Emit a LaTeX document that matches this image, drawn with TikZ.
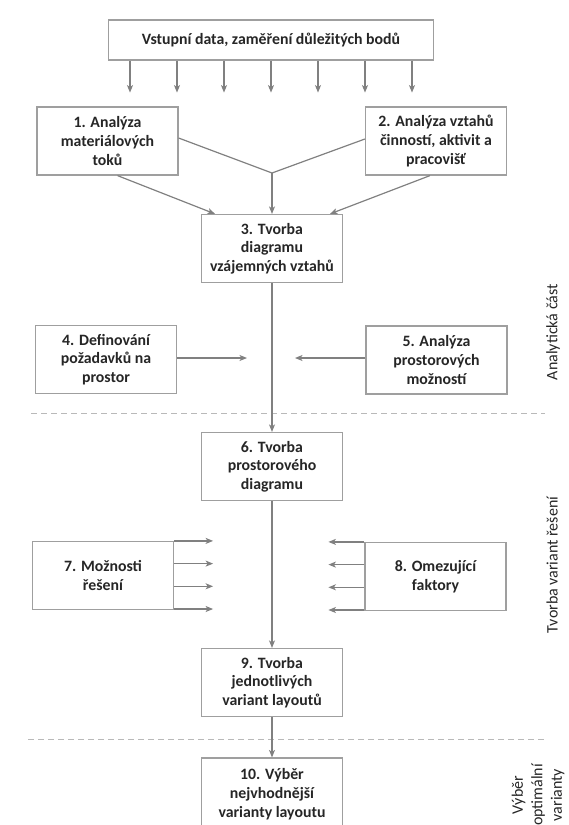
\documentclass[tikz,border=0pt]{standalone}
\usepackage{fontspec}
\setmainfont{Carlito}
\usetikzlibrary{arrows.meta}

\begin{document}
\begin{tikzpicture}[x=1pt, y=-1pt,
    stepbox/.style={draw=gray!75, line width=1.2pt, fill=white, minimum width=141pt,
        minimum height=68pt, align=center, inner sep=1pt, text=black!85,
        font=\bfseries\fontsize{15.8}{18.7}\selectfont},
    flow/.style={-{Stealth[length=7.5pt, width=6pt, inset=2pt]}, line width=1.2pt, gray},
    link/.style={-, line width=1.2pt, gray},
    divider/.style={line width=1pt, gray!55, dash pattern=on 6pt off 4pt},
    phase/.style={rotate=90, align=center, text=black!85, font=\fontsize{16}{19.5}\selectfont}]

    % Keep the page size of the original
    \useasboundingbox (0,0) rectangle (568,825);

    % Draw the boxes
    \node[stepbox, minimum width=325pt, minimum height=40pt] (vstup) at (271,40) {Vstupní data, zaměření důležitých bodů};
    \node[stepbox] (tok) at (107.5,141) {1. Analýza\\materiálových\\toků};
    \node[stepbox] (vztah) at (436,141) {2. Analýza vztahů\\činností, aktivit a\\pracovišť};
    \node[stepbox] (diag) at (272,248.5) {3. Tvorba\\diagramu\\vzájemných vztahů};
    \node[stepbox] (pozad) at (106,359.5) {4. Definování\\požadavků na\\prostor};
    \node[stepbox] (prost) at (436.5,360) {5. Analýza\\prostorových\\možností};
    \node[stepbox] (prdiag) at (272,466.5) {6. Tvorba\\prostorového\\diagramu};
    \node[stepbox] (moz) at (103,575.5) {7. Možnosti\\řešení};
    \node[stepbox] (omez) at (435.5,576.5) {8. Omezující\\faktory};
    \node[stepbox] (var) at (272,682.5) {9. Tvorba\\jednotlivých\\variant layoutů};
    \node[stepbox, minimum height=72pt] (vyber) at (272,794) {10. Výběr\\nejvhodnější\\varianty layoutu};

    % Label the phases
    \node[phase] (analyt) at (553,332) {Analytická část};
    \node[phase] (tvorba) at (552,565) {Tvorba variant řešení};
    \node[phase] (optim) at (538,795) {Výběr\\optimální\\varianty};

    % Dividers between the phases
    \draw[divider] (31,413) -- (545,413);
    \draw[divider] (28,739) -- (545,739);

    % Input arrows
    \foreach \k in {-3,...,3} {
        \coordinate (in\k) at ([xshift=\k*47pt, yshift=-32pt]vstup.south);
        \draw[flow] (vstup.south -| in\k) -- (in\k);
    }

    % Merge of 1 and 2 into 3
    \coordinate (sbeh) at (272,173);
    \draw[link] ([yshift=3pt]tok.east) -- (sbeh) -- ([yshift=2pt]vztah.west);
    \draw[flow] (sbeh) -- (diag.north);
    \draw[flow] ([xshift=10pt]tok.south) -- ([xshift=-57pt]diag.north);
    \draw[flow] ([xshift=-6pt]vztah.south) -- ([xshift=58pt]diag.north);

    % Side inputs 4 and 5
    \coordinate (vstup4) at (247,358);
    \coordinate (vstup5) at (295,358);
    \draw[flow] (pozad.east |- vstup4) -- (vstup4);
    \draw[flow] (prost.west |- vstup5) -- (vstup5);

    % Side inputs 7 and 8
    \foreach \f in {0,1,2,3} {
        \coordinate (m\f) at ([yshift=-\f*22.7pt]moz.north east);
        \coordinate (o\f) at ([yshift=-\f*22.7pt]omez.north west);
        \draw[flow] (m\f) -- ++(39,0);
        \draw[flow] (o\f) -- ++(-36,0);
    }

    % Main line
    \draw[flow] (diag.south) -- (prdiag.north);
    \draw[flow] (prdiag.south) -- (var.north);
    \draw[flow] (var.south) -- (vyber.north);
\end{tikzpicture}
\end{document}
